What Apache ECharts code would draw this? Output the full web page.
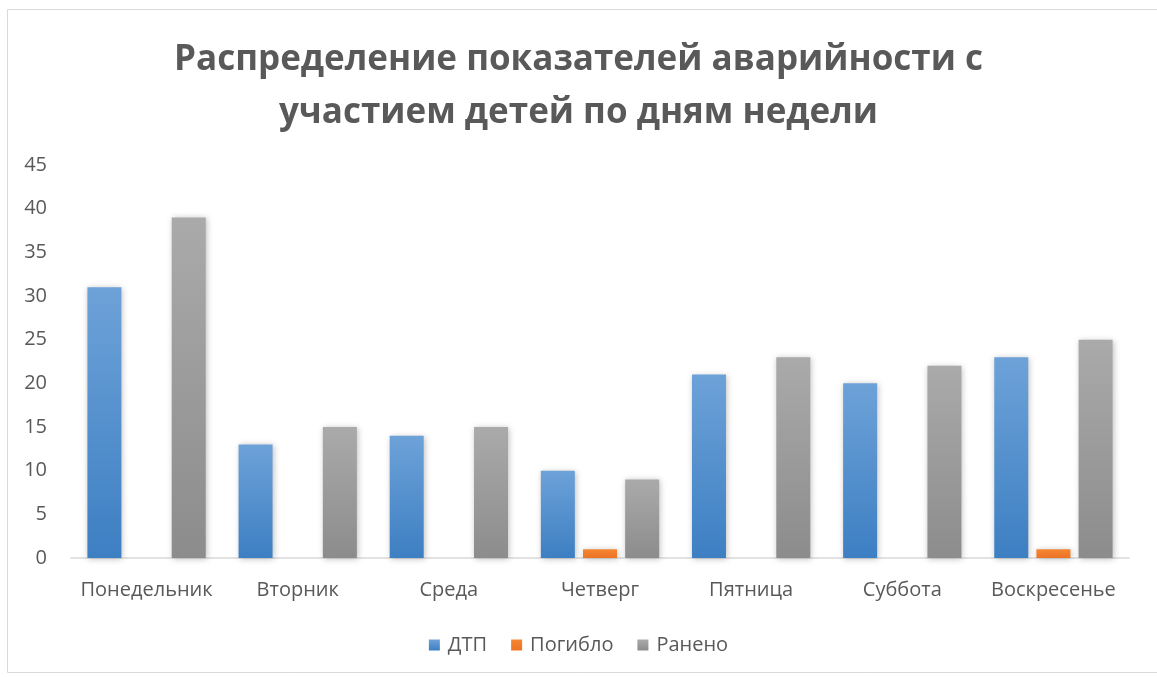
<!DOCTYPE html>
<html><head><meta charset="utf-8">
<script src="https://cdn.jsdelivr.net/npm/echarts@6/dist/echarts.min.js"></script>
<style>html,body{margin:0;padding:0;background:#fff}#c{width:1157px;height:677px}</style>
</head><body><div id="c"></div>
<script>
const categories = ['Понедельник','Вторник','Среда','Четверг','Пятница','Суббота','Воскресенье'];
const dtp = [31,13,14,10,21,20,23];
const died = [0,0,0,1,0,0,1];
const injured = [39,15,15,9,23,22,25];
const seriesNames = ['ДТП','Погибло','Ранено'];
const titleText = 'Распределение показателей аварийности с\nучастием детей по дням недели';
const yMin = 0, yMax = 45, yStep = 5;

const F = '"Open Sans", "Noto Sans", sans-serif';
function grad(top, bottom){
  return new echarts.graphic.LinearGradient(0,0,0,1,[{offset:0,color:top},{offset:1,color:bottom}]);
}
const shadow = {shadowColor:'rgba(0,0,0,0.25)', shadowBlur:6, shadowOffsetX:1, shadowOffsetY:1};
const chart = echarts.init(document.getElementById('c'), null, {renderer:'canvas'});
chart.setOption({
  animation:false,
  backgroundColor:'#fff',
  graphic:[{type:'rect', shape:{x:7.5,y:9.5,width:1160,height:663}, style:{fill:'none',stroke:'#d9d9d9',lineWidth:1}, silent:true}],
  title:{text:titleText, left:'center', top:29, textStyle:{fontFamily:F, fontWeight:'bold', fontSize:35, color:'#595959', lineHeight:53}},
  legend:{bottom:17, left:'center', itemWidth:11, itemHeight:11, itemGap:24, icon:'rect',
    textStyle:{fontFamily:F, fontSize:20, color:'#595959', padding:[0,0,0,3]}, data:seriesNames},
  grid:{left:71, right:28, top:165, bottom:119, containLabel:false},
  xAxis:{type:'category', data:categories,
    axisLine:{lineStyle:{color:'#d9d9d9', width:1.5}}, axisTick:{show:false},
    axisLabel:{fontFamily:F, fontSize:20, color:'#595959', margin:22, interval:0}},
  yAxis:{type:'value', min:yMin, max:yMax, interval:yStep,
    axisLine:{show:false}, axisTick:{show:false}, splitLine:{show:false},
    axisLabel:{fontFamily:F, fontSize:20, color:'#595959', margin:24}},
  series:[
    {name:seriesNames[0], type:'bar', data:dtp, barWidth:34, barGap:'24%', barCategoryGap:'22%',
      itemStyle:Object.assign({color:grad('#6da2d8','#3d7fc3')}, shadow)},
    {name:seriesNames[1], type:'bar', data:died, barWidth:34,
      itemStyle:Object.assign({color:grad('#f58634','#ed7324')}, shadow)},
    {name:seriesNames[2], type:'bar', data:injured, barWidth:34,
      itemStyle:Object.assign({color:grad('#aaaaaa','#8c8c8c')}, shadow)}
  ]
});
</script></body></html>
